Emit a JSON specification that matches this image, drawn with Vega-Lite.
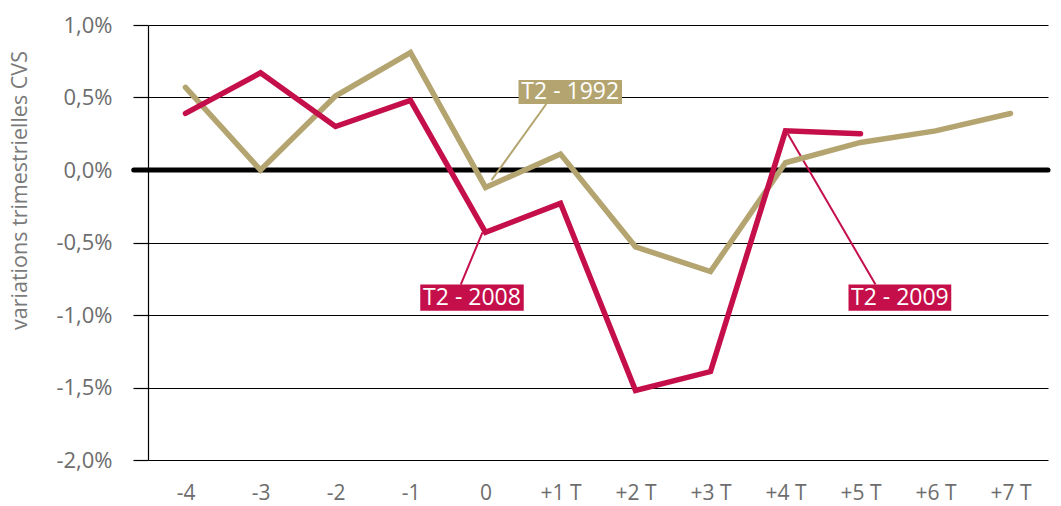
{
  "$schema": "https://vega.github.io/schema/vega-lite/v6.json",
  "width": 900,
  "height": 435,
  "autosize": {"type": "none"},
  "padding": {"left": 148, "top": 25, "right": 13, "bottom": 46},
  "background": "white",
  "config": {"view": {"stroke": null}, "font": "Open Sans"},
  "datasets": {
    "series": [
      {"q": -4, "serie": "1992", "v": 0.57},
      {"q": -3, "serie": "1992", "v": 0.0},
      {"q": -2, "serie": "1992", "v": 0.51},
      {"q": -1, "serie": "1992", "v": 0.81},
      {"q": 0, "serie": "1992", "v": -0.12},
      {"q": 1, "serie": "1992", "v": 0.11},
      {"q": 2, "serie": "1992", "v": -0.53},
      {"q": 3, "serie": "1992", "v": -0.70},
      {"q": 4, "serie": "1992", "v": 0.05},
      {"q": 5, "serie": "1992", "v": 0.19},
      {"q": 6, "serie": "1992", "v": 0.27},
      {"q": 7, "serie": "1992", "v": 0.39},
      {"q": -4, "serie": "2008", "v": 0.39},
      {"q": -3, "serie": "2008", "v": 0.67},
      {"q": -2, "serie": "2008", "v": 0.30},
      {"q": -1, "serie": "2008", "v": 0.48},
      {"q": 0, "serie": "2008", "v": -0.43},
      {"q": 1, "serie": "2008", "v": -0.23},
      {"q": 2, "serie": "2008", "v": -1.52},
      {"q": 3, "serie": "2008", "v": -1.39},
      {"q": 4, "serie": "2008", "v": 0.27},
      {"q": 5, "serie": "2008", "v": 0.25}
    ],
    "notes": [
      {"label": "T2 - 1992", "serie": "1992", "x1": 0.44, "x2": 1.82, "y1": 0.62, "y2": 0.455, "tx": 1.13, "ty": 0.535, "lx1": 0.81, "ly1": 0.455, "lx2": 0.08, "ly2": -0.07},
      {"label": "T2 - 2008", "serie": "2008", "x1": -0.87, "x2": 0.51, "y1": -0.79, "y2": -0.97, "tx": -0.18, "ty": -0.885, "lx1": -0.33, "ly1": -0.79, "lx2": -0.04, "ly2": -0.43},
      {"label": "T2 - 2009", "serie": "2008", "x1": 4.84, "x2": 6.21, "y1": -0.79, "y2": -0.97, "tx": 5.525, "ty": -0.885, "lx1": 5.2, "ly1": -0.79, "lx2": 4.03, "ly2": 0.25}
    ]
  },
  "encoding": {
    "x": {
      "type": "quantitative",
      "scale": {"domain": [-4.5, 7.5], "nice": false, "zero": false}
    },
    "y": {
      "type": "quantitative",
      "scale": {"domain": [-2, 1], "nice": false, "zero": false}
    }
  },
  "layer": [
    {
      "data": {"values": [{}]},
      "mark": {"type": "rule", "color": "black", "strokeWidth": 5, "strokeCap": "round"},
      "encoding": {
        "x": {"datum": -4.69, "type": "quantitative",
          "axis": {
            "values": [-4, -3, -2, -1, 0, 1, 2, 3, 4, 5, 6, 7],
            "labelExpr": "datum.value > 0 ? '+' + datum.value + ' T' : (datum.value < 0 ? '-' + abs(datum.value) : '0')",
            "domain": false, "ticks": false, "grid": false, "title": null,
            "labelFontSize": 21, "labelColor": "#6d6d6d", "labelPadding": 22, "labelDx": 4, "labelFlush": false
          }
        },
        "x2": {"datum": 7.5},
        "y": {"datum": 0, "type": "quantitative",
          "axis": {
            "values": [-2, -1.5, -1, -0.5, 0, 0.5, 1],
            "labelExpr": "(datum.value < 0 ? '-' : '') + replace(format(abs(datum.value), '.1f'), '.', ',') + '%'",
            "grid": true, "gridColor": "black", "gridWidth": 1.2, "gridOpacity": 1,
            "domain": true, "domainColor": "black", "domainWidth": 1.2,
            "ticks": true, "tickSize": 15, "tickColor": "black", "tickWidth": 1.2,
            "labelFontSize": 22, "labelColor": "#6d6d6d", "labelPadding": 21,
            "title": "variations trimestrielles CVS",
            "titleFontSize": 21.5, "titleFontWeight": "normal", "titleColor": "#7a7a7a",
            "titleX": -128, "titleY": 165, "titleAngle": -90, "titleAlign": "center", "titleBaseline": "middle"
          }
        }
      }
    },
    {
      "data": {"name": "notes"},
      "mark": {"type": "rule", "strokeWidth": 2},
      "encoding": {
        "x": {"field": "lx1", "type": "quantitative"},
        "x2": {"field": "lx2"},
        "y": {"field": "ly1", "type": "quantitative"},
        "y2": {"field": "ly2"},
        "color": {"field": "serie", "type": "nominal", "legend": null,
          "scale": {"domain": ["1992", "2008"], "range": ["#B3A470", "#C50F4B"]}}
      }
    },
    {
      "data": {"name": "series"},
      "mark": {"type": "line", "strokeWidth": 5.5, "strokeCap": "round", "strokeJoin": "miter"},
      "encoding": {
        "x": {"field": "q", "type": "quantitative"},
        "y": {"field": "v", "type": "quantitative"},
        "color": {"field": "serie", "type": "nominal", "legend": null,
          "scale": {"domain": ["1992", "2008"], "range": ["#B3A470", "#C50F4B"]}},
        "order": {"field": "q"}
      }
    },
    {
      "data": {"name": "notes"},
      "mark": {"type": "rect"},
      "encoding": {
        "x": {"field": "x1", "type": "quantitative"},
        "x2": {"field": "x2"},
        "y": {"field": "y1", "type": "quantitative"},
        "y2": {"field": "y2"},
        "color": {"field": "serie", "type": "nominal", "legend": null,
          "scale": {"domain": ["1992", "2008"], "range": ["#B3A470", "#C50F4B"]}}
      }
    },
    {
      "data": {"name": "notes"},
      "mark": {"type": "text", "color": "white", "fontSize": 23, "align": "center", "baseline": "middle"},
      "encoding": {
        "x": {"field": "tx", "type": "quantitative"},
        "y": {"field": "ty", "type": "quantitative"},
        "text": {"field": "label"}
      }
    }
  ]
}
